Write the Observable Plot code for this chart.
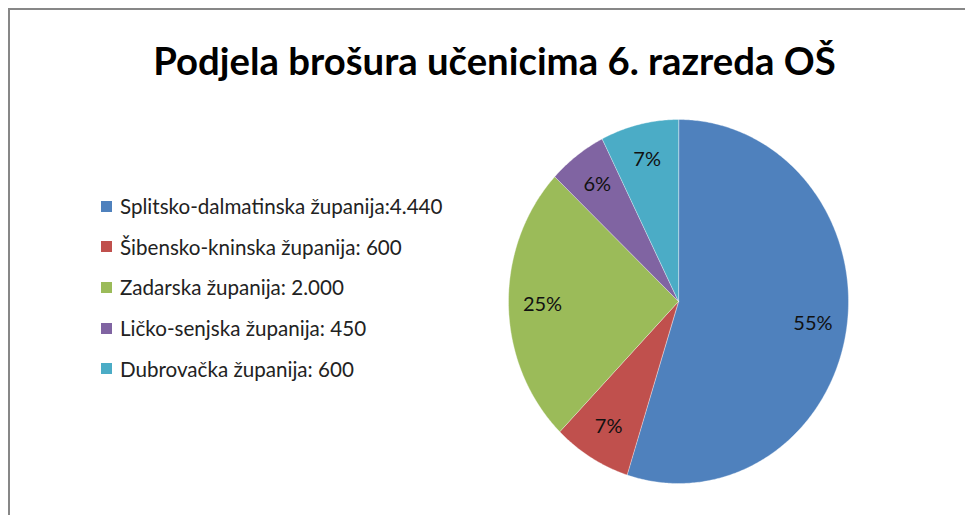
<!DOCTYPE html>
<html>
<head>
<meta charset="utf-8">
<script src="https://cdn.jsdelivr.net/npm/d3@7"></script>
<script src="https://cdn.jsdelivr.net/npm/@observablehq/plot@0.6"></script>
<style>
  html, body { margin: 0; padding: 0; background: #fff; }
  #wrap { position: relative; width: 965px; height: 515px; overflow: hidden; font-family: Lato, "Open Sans", sans-serif; }
  #frame { position: absolute; left: 8px; top: 8px; width: 1000px; height: 600px; border-top: 2px solid #878787; border-left: 2px solid #878787; }
  #title { position: absolute; left: 0; width: 989px; top: 37px; text-align: center; font-size: 38.3px; font-weight: bold; color: #000; white-space: nowrap; }
  #legend { position: absolute; left: 101px; top: 186px; }
  .row { display: flex; align-items: center; height: 40.6px; font-size: 20.6px; color: #222; white-space: nowrap; }
  .sw { width: 11px; height: 11px; margin-right: 8px; flex: none; }
  #chart { position: absolute; left: 0; top: 0; }
</style>
</head>
<body>
<div id="wrap">
  <div id="chart"></div>
  <div id="frame"></div>
  <div id="title">Podjela brošura učenicima 6. razreda OŠ</div>
  <div id="legend"></div>
</div>
<script>
const categories = [
  "Splitsko-dalmatinska županija",
  "Šibensko-kninska županija",
  "Zadarska županija",
  "Ličko-senjska županija",
  "Dubrovačka županija"
];
const values = [4440, 600, 2000, 450, 600];
const legendLabels = [
  "Splitsko-dalmatinska županija:4.440",
  "Šibensko-kninska županija: 600",
  "Zadarska županija: 2.000",
  "Ličko-senjska županija: 450",
  "Dubrovačka županija: 600"
];
const colors = ["#4F81BD", "#C0504D", "#9BBB59", "#8064A2", "#4BACC6"];

const data = categories.map((name, i) => ({name, value: values[i]}));
const total = d3.sum(values);
const arcs = d3.pie().sort(null).value(d => d.value)(data);

// polygon points of each slice (unit circle, y up; angle clockwise from 12 o'clock)
const pts = [];
arcs.forEach(a => {
  const name = a.data.name;
  pts.push({name, x: 0, y: 0});
  const n = Math.max(2, Math.ceil((a.endAngle - a.startAngle) / 0.01));
  for (let k = 0; k <= n; k++) {
    const t = a.startAngle + (a.endAngle - a.startAngle) * k / n;
    pts.push({name, x: Math.sin(t), y: Math.cos(t)});
  }
});
const labelR = 0.8;
const labels = arcs.map(a => {
  const m = (a.startAngle + a.endAngle) / 2;
  return {name: a.data.name, x: labelR * Math.sin(m), y: labelR * Math.cos(m),
          text: Math.round(a.data.value / total * 100) + "%"};
});

const plot = Plot.plot({
  width: 965,
  height: 515,
  margin: 0,
  x: {domain: [-1, 1], range: [508, 848], axis: null},
  y: {domain: [-1, 1], range: [483, 119], axis: null},
  color: {domain: categories, range: colors},
  style: {background: "transparent", fontFamily: "Lato, 'Open Sans', sans-serif"},
  marks: [
    Plot.line(pts, {x: "x", y: "y", z: "name", fill: "name", stroke: "#ffffff", strokeWidth: 0.6, strokeOpacity: 0.6, curve: "linear-closed"}),
    Plot.text(labels, {x: "x", y: "y", text: "text", fontSize: 20, fill: "#111"})
  ]
});
document.getElementById("chart").appendChild(plot);

const legend = document.getElementById("legend");
legendLabels.forEach((t, i) => {
  const row = document.createElement("div");
  row.className = "row";
  const sw = document.createElement("div");
  sw.className = "sw";
  sw.style.background = plot.scale("color").apply(categories[i]);
  const tx = document.createElement("span");
  tx.textContent = t;
  row.appendChild(sw);
  row.appendChild(tx);
  legend.appendChild(row);
});
</script>
</body>
</html>
